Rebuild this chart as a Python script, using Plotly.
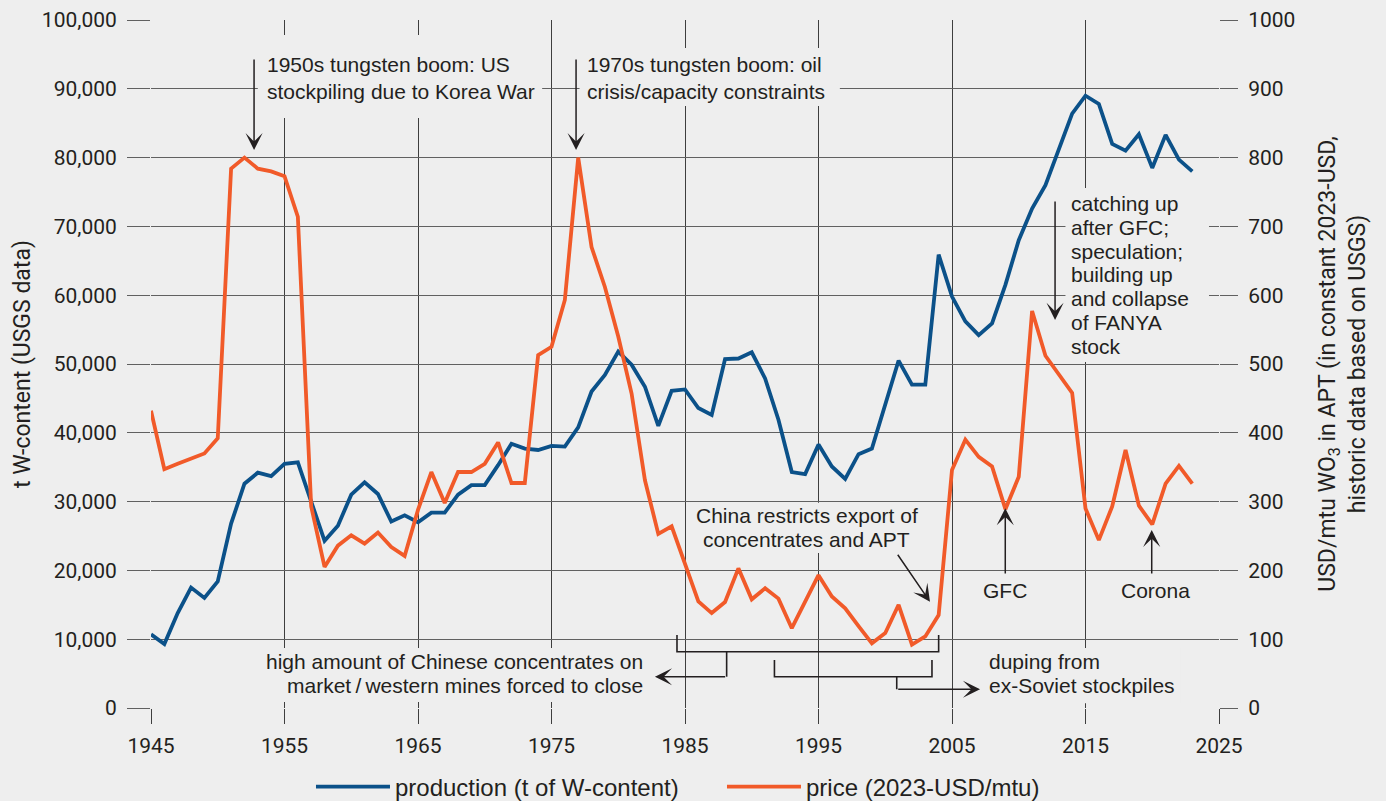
import plotly.graph_objects as go

# ---------------- data ----------------
years = list(range(1945, 2024))
production = [10700, 9300, 13800, 17500, 16000, 18400, 26800, 32600, 34200, 33700,
              35500, 35700, 30000, 24300, 26500, 31000, 32800, 31100, 27100, 28000,
              27000, 28400, 28400, 31000, 32400, 32400, 35300, 38400, 37700, 37500,
              38100, 38000, 40800, 46000, 48400, 51800, 49900, 46700, 41000, 46100,
              46300, 43600, 42600, 50700, 50800, 51700, 47900, 41900, 34300, 34000,
              38300, 35100, 33300, 36900, 37700, 44000, 50500, 47000, 47000, 65900,
              59800, 56200, 54200, 55900, 61500, 68000, 72600, 76000, 81100, 86400,
              89000, 87800, 82000, 81000, 83400, 78500, 83300, 79700, 78000]
price = [432, 347, 355, 362, 370, 392, 784, 800, 784, 780,
         773, 714, 293, 205, 236, 251, 239, 255, 234, 221,
         288, 343, 298, 343, 343, 355, 386, 327, 327, 513,
         525, 593, 800, 670, 612, 540, 457, 331, 253, 264,
         210, 155, 138, 154, 203, 158, 174, 159, 116, 155,
         193, 162, 145, 119, 94, 109, 150, 92, 104, 135,
         346, 390, 365, 351, 289, 336, 577, 512, 486, 458,
         290, 244, 293, 375, 294, 267, 326, 352, 326]
x_ticks = list(range(1945, 2026, 10))
series_names = ["production (t of W-content)", "price (2023-USD/mtu)"]

BLUE = "#0B5189"
ORANGE = "#F15A29"
DARK = "#231f20"
BG = "#eeeeee"
TXT_FONT = "Liberation Sans, Arial, sans-serif"
AX_FONT = "Roboto, Liberation Sans, sans-serif"

fig = go.Figure()
fig.add_trace(go.Scatter(x=years, y=production, name=series_names[0], mode="lines",
                         line=dict(color=BLUE, width=3.8), yaxis="y"))
fig.add_trace(go.Scatter(x=years, y=price, name=series_names[1], mode="lines",
                         line=dict(color=ORANGE, width=3.8), yaxis="y2"))

annotations = []
shapes = []


def text_line(x, y, s, anchor):
    annotations.append(dict(x=x, y=y, xref="x", yref="y", text=s, showarrow=False,
                            xanchor=anchor, yanchor="middle", align=anchor,
                            font=dict(family=TXT_FONT, size=21, color=DARK),
                            borderpad=0, borderwidth=0))


def arrow(xt, yt, xa, ya):
    annotations.append(dict(x=xt, y=yt, ax=xa, ay=ya, xref="x", yref="y", axref="x", ayref="y",
                            text="", showarrow=True, arrowhead=3, arrowsize=1.9, arrowwidth=1.5,
                            arrowcolor=DARK, standoff=0))


def gap_box(x0, x1, y0, y1):
    # background patch that interrupts the gridlines behind a text block
    shapes.append(dict(type="rect", xref="x", yref="y", x0=x0, x1=x1, y0=y0, y1=y1,
                       fillcolor=BG, line=dict(width=0), layer="between"))


# gridline gaps behind the text blocks
gap_box(1953.0, 1974.3, 85760, 97820)
gap_box(1977.1, 1996.6, 87500, 95930)
gap_box(2013.5, 2024.25, 50290, 75580)
gap_box(1985.4, 2002.9, 22530, 29840)
gap_box(1953.3, 1982.2, 870, 8720)
gap_box(2007.5, 2022.1, 700, 8720)

# 1950s boom
text_line(1953.66, 93470, "1950s tungsten boom: US", "left")
text_line(1953.66, 89590, "stockpiling due to Korea War", "left")
# 1970s boom
text_line(1977.66, 93470, "1970s tungsten boom: oil", "left")
text_line(1977.66, 89590, "crisis/capacity constraints", "left")
# catching up block
catch_lines = ["catching up", "after GFC;", "speculation;", "building up",
               "and collapse", "of FANYA", "stock"]
catch_y = [73370, 69890, 66420, 62950, 59470, 56000, 52520]
for s, yv in zip(catch_lines, catch_y):
    text_line(2013.89, yv, s, "left")
# China restricts
text_line(1994.11, 27920, "China restricts export of", "center")
text_line(1994.11, 24430, "concentrates and APT", "center")
# GFC / Corona
text_line(2008.97, 17100, "GFC", "center")
text_line(2020.28, 17100, "Corona", "center")
# bottom notes
text_line(1981.87, 6700, "high amount of Chinese concentrates on", "right")
text_line(1981.87, 3210, "market\u2009/\u2009western mines forced to close", "right")
text_line(2007.79, 6700, "duping from", "left")
text_line(2007.79, 3300, "ex-Soviet stockpiles", "left")

# arrows
arrow(1952.72, 81100, 1952.72, 94480)
arrow(1976.84, 81100, 1976.84, 94480)
arrow(2012.72, 56400, 2012.72, 73840)
arrow(2003.35, 15450, 2000.86, 22490)
arrow(2008.99, 29030, 2008.99, 19330)
arrow(2019.96, 25870, 2019.96, 19330)
arrow(1982.75, 4550, 1988.12, 4550)
arrow(2007.10, 2720, 2000.86, 2720)

# brackets
shapes += [
    dict(type="path", xref="x", yref="y",
         path="M 1984.4,10610 L 1984.4,8180 L 2004.0,8180 L 2004.0,10610",
         line=dict(color=DARK, width=1.6)),
    dict(type="line", xref="x", yref="y", x0=1988.12, x1=1988.12, y0=8180, y1=4550,
         line=dict(color=DARK, width=1.6)),
    dict(type="path", xref="x", yref="y",
         path="M 1991.7,6980 L 1991.7,4550 L 2003.5,4550 L 2003.5,6980",
         line=dict(color=DARK, width=1.6)),
    dict(type="line", xref="x", yref="y", x0=2000.86, x1=2000.86, y0=4550, y1=2720,
         line=dict(color=DARK, width=1.6)),
]

fig.update_layout(
    width=1386, height=801,
    margin=dict(l=151, r=167, t=20, b=93, autoexpand=False),
    paper_bgcolor=BG, plot_bgcolor=BG,
    showlegend=True,
    legend=dict(orientation="h", xref="paper", x=0.1498, xanchor="left",
                yref="container", y=1 - 787 / 801, yanchor="middle",
                font=dict(family=TXT_FONT, size=24, color=DARK), itemwidth=74,
                entrywidth=322, entrywidthmode="pixels",
                bgcolor="rgba(0,0,0,0)"),
    xaxis=dict(range=[1945, 2025], tickvals=x_ticks, showgrid=True, gridcolor="#3e3e3e",
               gridwidth=1, ticks="outside", ticklen=15, tickcolor="#3e3e3e", tickwidth=1,
               tickfont=dict(family=AX_FONT, size=21, color=DARK), zeroline=False,
               showline=False, ticklabelstandoff=4),
    yaxis=dict(range=[0, 100000], dtick=10000, tickformat=",", showgrid=True,
               gridcolor="#606060", gridwidth=1, ticks="outside", ticklen=23,
               tickcolor="#606060", tickwidth=1, zeroline=False, showline=False,
               tickfont=dict(family=AX_FONT, size=21, color=DARK), ticklabelstandoff=6,
               title=dict(text="t W-content (USGS data)", standoff=4,
                          font=dict(family=AX_FONT, size=23, color=DARK))),
    yaxis2=dict(range=[0, 1000], dtick=100, overlaying="y", side="right", showgrid=False,
                ticks="outside", ticklen=18, tickcolor="#606060", tickwidth=1,
                zeroline=False, showline=False,
                tickfont=dict(family=AX_FONT, size=21, color=DARK), ticklabelstandoff=6,
                title=dict(text="USD/mtu WO<sub>3</sub> in APT (in constant 2023-USD,<br>historic data based on USGS)",
                           standoff=24, font=dict(family=AX_FONT, size=23, color=DARK))),
    annotations=annotations,
    shapes=shapes,
)

fig.write_html("out.html", config={"displayModeBar": False},
               post_script="document.body.style.margin='0';")
